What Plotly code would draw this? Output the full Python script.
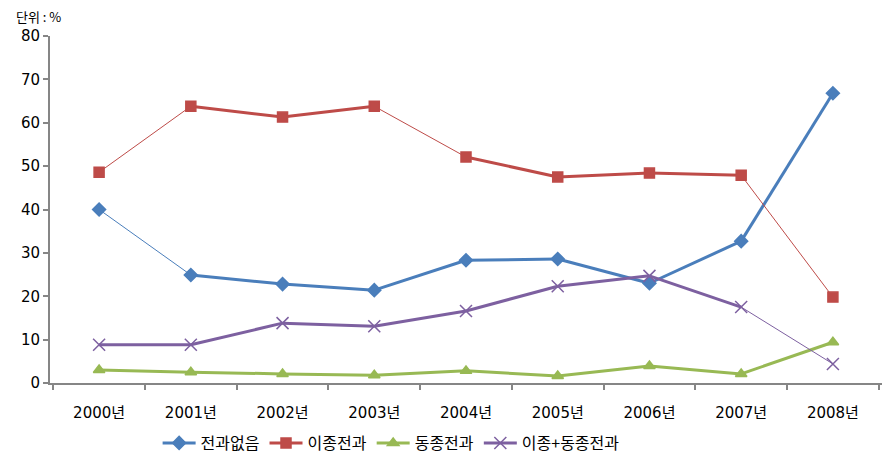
import plotly.graph_objects as go

years = ["2000년", "2001년", "2002년", "2003년", "2004년", "2005년", "2006년", "2007년", "2008년"]
none_ = [40.0, 24.9, 22.8, 21.4, 28.3, 28.6, 23.0, 32.7, 66.8]
diff_kind = [48.6, 63.8, 61.3, 63.8, 52.1, 47.5, 48.4, 47.9, 19.8]
same_kind = [3.0, 2.5, 2.1, 1.8, 2.8, 1.6, 3.9, 2.1, 9.4]
both_kind = [8.8, 8.8, 13.8, 13.1, 16.6, 22.3, 24.7, 17.5, 4.4]
names = ["전과없음", "이종전과", "동종전과", "이종+동종전과"]

# per-segment widths as in the original (some segments are drawn thin)
styles = [
    dict(color="#4A7EBB", symbol="diamond", size=10, widths=[1, 3, 3, 3, 3, 3, 3, 3]),
    dict(color="#BE4B48", symbol="square", size=10, widths=[1, 3, 3, 1, 3, 3, 3, 1]),
    dict(color="#98B954", symbol="triangle-up", size=10, widths=[3, 3, 3, 3, 3, 3, 3, 3]),
    dict(color="#7D60A0", symbol="x-thin", size=12, widths=[3, 3, 3, 3, 3, 3, 3, 1]),
]

FONT = "DejaVu Sans, Noto Sans CJK KR"

fig = go.Figure()
for vals, name, st in zip([none_, diff_kind, same_kind, both_kind], names, styles):
    for i in range(len(years) - 1):
        fig.add_trace(go.Scatter(x=years[i:i + 2], y=vals[i:i + 2], mode="lines",
                                 line=dict(color=st["color"], width=st["widths"][i]),
                                 showlegend=False, hoverinfo="skip"))
    mk = dict(color=st["color"], symbol=st["symbol"], size=st["size"],
              line=dict(color=st["color"], width=1.5))
    fig.add_trace(go.Scatter(x=years, y=vals, mode="markers", marker=mk, showlegend=False, name=name))
    fig.add_trace(go.Scatter(x=[None], y=[None], mode="lines+markers", name=name, marker=mk,
                             line=dict(color=st["color"], width=3)))

# page body has an 8px margin, so the figure is a bit smaller than the window
fig.update_layout(
    width=878, height=445,
    margin=dict(l=42, r=4, t=28, b=70, autoexpand=False),
    plot_bgcolor="white", paper_bgcolor="white",
    font=dict(family=FONT, size=14, color="black"),
    legend=dict(orientation="h", x=0.41, xanchor="center", y=-0.173, yanchor="middle",
                font=dict(family="Noto Sans CJK KR", size=16), itemwidth=33, tracegroupgap=0),
    annotations=[dict(text="단위 : %", xref="paper", yref="paper", x=-0.043, y=1.057,
                      xanchor="left", yanchor="middle", showarrow=False,
                      font=dict(family="Noto Sans CJK KR", size=13))],
)
fig.update_xaxes(type="category", showline=True, linecolor="#868686", linewidth=2,
                 ticks="outside", tickson="boundaries", ticklen=5, tickcolor="#868686", tickwidth=2,
                 showgrid=False, tickfont=dict(size=15), ticklabelstandoff=15, automargin=False)
fig.update_yaxes(range=[0, 80], dtick=10, showline=True, linecolor="#868686", linewidth=2,
                 ticks="outside", ticklen=5, tickcolor="#868686", tickwidth=2,
                 showgrid=False, zeroline=False, tickfont=dict(size=15), automargin=False)

fig.write_html("out.html")
